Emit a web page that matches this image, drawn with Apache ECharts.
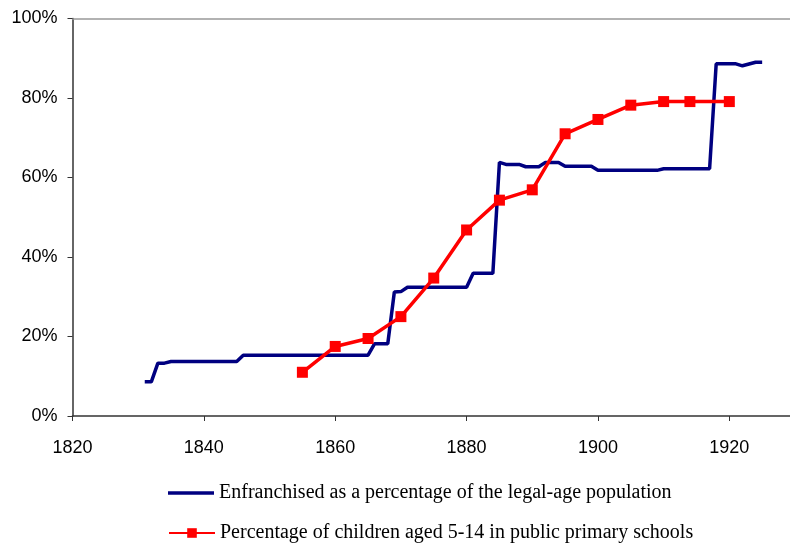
<!DOCTYPE html>
<html lang="en">
<head>
    <meta charset="UTF-8">
    <title>Enfranchisement and schooling</title>
    <script src="https://cdn.jsdelivr.net/npm/echarts/dist/echarts.min.js"></script>
    <style>
        html, body {
            margin: 0;
            padding: 0;
            background-color: #ffffff;
        }
        #chart {
            width: 790px;
            height: 543px;
        }
    </style>
</head>
<body>
    <div id="chart"></div>
    <script>
        // 数据
        var seriesNames = [
            'Enfranchised as a percentage of the legal-age population',
            'Percentage of children aged 5-14 in public primary schools'
        ];
        var franchiseYears = [1831, 1832, 1833, 1834, 1835, 1845, 1846, 1865, 1866, 1868, 1869, 1870, 1871,
            1880, 1881, 1884, 1885, 1886, 1888, 1889, 1891, 1892, 1894, 1895, 1899, 1900, 1909, 1910,
            1917, 1918, 1921, 1922, 1924, 1925];
        var franchiseValues = [8.6, 8.6, 13.3, 13.3, 13.7, 13.7, 15.3, 15.3, 18.2, 18.2, 31.2, 31.3, 32.4,
            32.4, 35.9, 35.9, 63.8, 63.3, 63.3, 62.7, 62.7, 63.8, 63.8, 62.8, 62.8, 61.8, 61.8, 62.2,
            62.2, 88.6, 88.6, 88.1, 89.0, 89.0];
        var schoolYears = [1855, 1860, 1865, 1870, 1875, 1880, 1885, 1890, 1895, 1900, 1905, 1910, 1914, 1920];
        var schoolValues = [11.0, 17.5, 19.5, 25.0, 34.7, 46.8, 54.3, 56.9, 71.0, 74.6, 78.2, 79.1, 79.1, 79.1];
        var yearTicks = [1820, 1840, 1860, 1880, 1900, 1920];

        function pairs(xs, ys) {
            return xs.map(function (x, i) { return [x, ys[i]]; });
        }

        var legendText = {
            fontFamily: 'Liberation Serif',
            fontSize: 20,
            color: '#000'
        };

        var chart = echarts.init(document.getElementById('chart'));
        chart.setOption({
            animation: false,
            grid: {
                left: 72.5,
                right: -5,
                top: 18.5,
                bottom: 127,
                outerBoundsMode: 'none'
            },
            legend: [{
                left: 168,
                top: 483,
                padding: 0,
                itemWidth: 46,
                itemHeight: 3.5,
                icon: 'rect',
                data: [seriesNames[0]],
                textStyle: legendText
            }, {
                left: 168,
                top: 523,
                padding: 0,
                itemWidth: 46,
                itemHeight: 12,
                data: [seriesNames[1]],
                textStyle: legendText
            }],
            xAxis: [{
                type: 'value',
                min: 1820,
                max: 1930,
                interval: 20,
                axisLine: { lineStyle: { color: '#333', width: 1.5 } },
                axisTick: { length: 5, inside: false, lineStyle: { color: '#333' } },
                splitLine: { show: false },
                axisLabel: {
                    margin: 23,
                    fontFamily: 'Liberation Sans',
                    fontSize: 18,
                    color: '#000',
                    formatter: function (v) {
                        return yearTicks.indexOf(v) >= 0 ? String(v) : '';
                    }
                }
            }, {
                type: 'value',
                position: 'top',
                min: 1820,
                max: 1930,
                axisLine: { show: true, lineStyle: { color: '#999', width: 1.5 } },
                axisTick: { show: false },
                axisLabel: { show: false },
                splitLine: { show: false }
            }],
            yAxis: {
                type: 'value',
                min: 0,
                max: 100,
                interval: 20,
                axisLine: { show: true, lineStyle: { color: '#333', width: 1.5 } },
                axisTick: { show: true, length: 5, lineStyle: { color: '#333' } },
                splitLine: { show: false },
                axisLabel: {
                    margin: 15,
                    fontFamily: 'Liberation Sans',
                    fontSize: 18,
                    color: '#000',
                    formatter: '{value}%'
                }
            },
            series: [{
                name: seriesNames[0],
                type: 'line',
                data: pairs(franchiseYears, franchiseValues),
                symbol: 'none',
                lineStyle: { color: '#000080', width: 3.5 },
                itemStyle: { color: '#000080' }
            }, {
                name: seriesNames[1],
                type: 'line',
                data: pairs(schoolYears, schoolValues),
                symbol: 'rect',
                symbolSize: 11,
                lineStyle: { color: '#ff0000', width: 3.5 },
                itemStyle: { color: '#ff0000' }
            }]
        });
    </script>
</body>
</html>
